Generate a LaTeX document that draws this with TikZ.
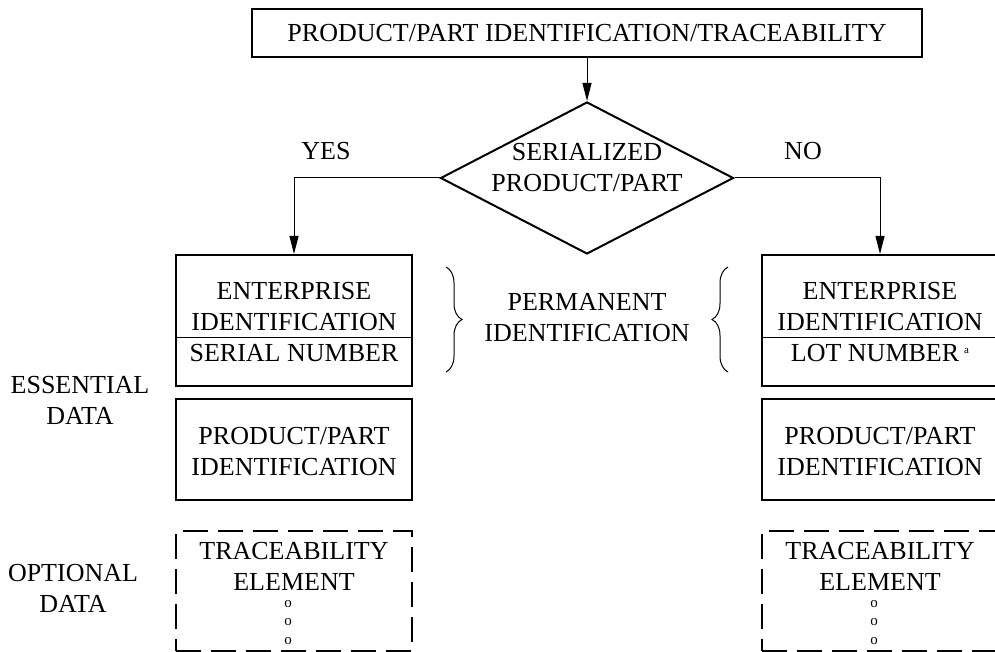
\documentclass[tikz,border=0pt]{standalone}
\usepackage{fontspec}
\setmainfont{Liberation Serif}
\usetikzlibrary{shapes.geometric,arrows.meta,decorations.pathreplacing}

\begin{document}
\begin{tikzpicture}[x=1pt, y=-1pt, >={Triangle[length=18pt,width=9pt]},
  font=\fontsize{26}{31}\selectfont,
  box/.style={draw, line width=2pt, minimum width=236pt, align=center, inner sep=0pt},
  optbox/.style={box, dash pattern=on 25pt off 10pt},
  decision/.style={draw, diamond, line width=2pt, minimum width=293pt, minimum height=152pt, inner sep=0pt},
  link/.style={->, line width=1pt},
  curly/.style={decorate, decoration={brace, amplitude=16pt}, line width=1pt},
  smalldots/.style={font=\fontsize{15}{18.5}\selectfont, align=center}]
  \useasboundingbox (0,0) rectangle (995,652);

  % top of the chart
  \node[box, minimum width=670pt, minimum height=48pt] (title) at (587,33) {PRODUCT/PART IDENTIFICATION/TRACEABILITY};
  \node[decision] (serial) at (587,178) {};
  \node[align=center] (serialtext) at ([yshift=10pt]serial.center) {SERIALIZED\\PRODUCT/PART};
  \node (yes) at (326,151) {YES};
  \node (no) at (803,151) {NO};

  % serialized branch
  \node[box, minimum height=131pt] (lserial) at (294,320.5) {};
  \node[align=center] (lserialtext) at (294,322) {ENTERPRISE\\IDENTIFICATION\\SERIAL NUMBER};
  \node[box, minimum height=101pt] (lproduct) at (294,449.5) {};
  \node[align=center] (lproducttext) at (294,451.5) {PRODUCT/PART\\IDENTIFICATION};
  \node[optbox, minimum height=120pt] (ltrace) at (294,591) {};
  \node[align=center] (ltracetext) at (294,566) {TRACEABILITY\\ELEMENT};
  \node[smalldots] (ldots) at (288,622.5) {o\\o\\o};

  % lot branch
  \node[box, minimum height=131pt] (rserial) at (880,320.5) {};
  \node[align=center] (rserialtext) at (880,322) {ENTERPRISE\\IDENTIFICATION\\LOT NUMBER\hspace{5pt}\raisebox{8pt}{\fontsize{11}{11}\selectfont a}};
  \node[box, minimum height=101pt] (rproduct) at (880,449.5) {};
  \node[align=center] (rproducttext) at (880,451.5) {PRODUCT/PART\\IDENTIFICATION};
  \node[optbox, minimum height=120pt] (rtrace) at (880,591) {};
  \node[align=center] (rtracetext) at (880,566) {TRACEABILITY\\ELEMENT};
  \node[smalldots] (rdots) at (874,622.5) {o\\o\\o};

  \draw[line width=1pt] ([yshift=-16.5pt]lserial.west) -- ([yshift=-16.5pt]lserial.east);
  \draw[line width=1pt] ([yshift=-16.5pt]rserial.west) -- ([yshift=-16.5pt]rserial.east);

  % labels
  \node[align=center] (permanent) at (587,318) {PERMANENT\\IDENTIFICATION};
  \draw[curly] (446,267) -- (446,372);
  \draw[curly] (728,372) -- (728,267);
  \node[align=center] (essential) at (80,400) {ESSENTIAL\\DATA};
  \node[align=center] (optional) at (73,588.5) {OPTIONAL\\DATA};

  % connectors
  \draw[link] (title) -- (serial);
  \draw[link] (serial.west) -| (lserial.north);
  \draw[link] (serial.east) -| (rserial.north);
\end{tikzpicture}
\end{document}
